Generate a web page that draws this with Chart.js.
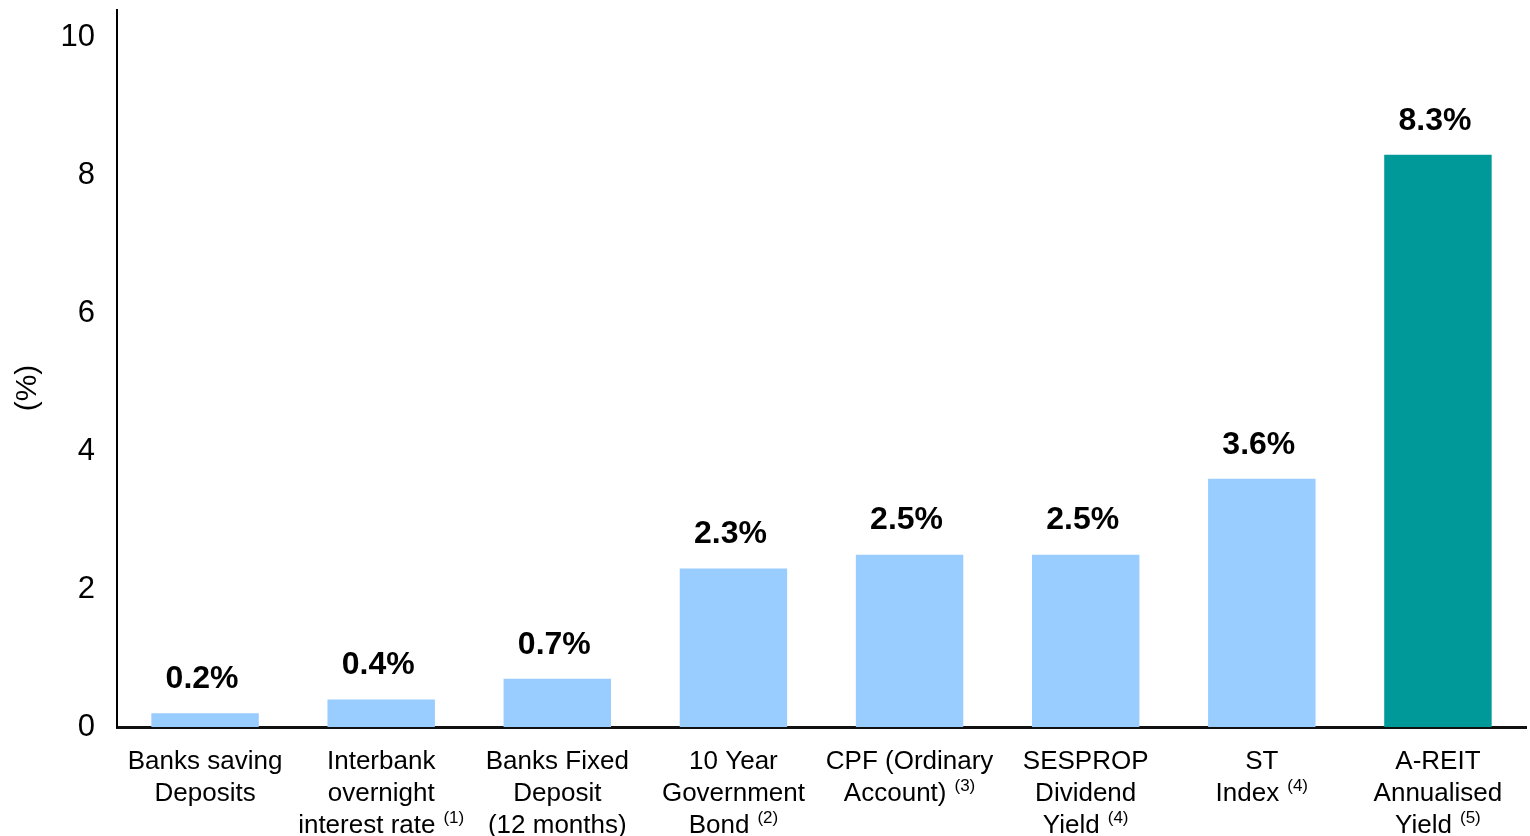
<!DOCTYPE html>
<html>
<head>
<meta charset="utf-8">
<script src="https://cdn.jsdelivr.net/npm/chart.js@4.4.1/dist/chart.umd.min.js"></script>
<style>
html,body{margin:0;padding:0;background:#fff;}
canvas{display:block;}
</style>
</head>
<body>
<canvas id="myChart" width="1530" height="836" style="width:1530px;height:836px"></canvas>
<script>
const categories = [
  ['Banks saving', 'Deposits'],
  ['Interbank', 'overnight', 'interest rate'],
  ['Banks Fixed', 'Deposit', '(12 months)'],
  ['10 Year', 'Government', 'Bond'],
  ['CPF (Ordinary', 'Account)'],
  ['SESPROP', 'Dividend', 'Yield'],
  ['ST', 'Index'],
  ['A-REIT', 'Annualised', 'Yield']
]
const notes = ['', '(1)', '', '(2)', '(3)', '(4)', '(4)', '(5)']
const yields = [0.2, 0.4, 0.7, 2.3, 2.5, 2.5, 3.6, 8.3]
const yTicks = [0, 2, 4, 6, 8, 10]

const blue = '#99ccff'
const teal = '#009999'
const font = '"Liberation Sans", Arial, sans-serif'

const barColors = yields.map((v, i) => i === yields.length - 1 ? teal : blue)

const labelsPlugin = {
  id: 'labelsPlugin',
  afterDatasetsDraw(chart) {
    const ctx = chart.ctx
    const meta = chart.getDatasetMeta(0)
    ctx.save()
    ctx.font = 'bold 32px ' + font
    ctx.fillStyle = '#000'
    ctx.textAlign = 'center'
    ctx.textBaseline = 'bottom'
    meta.data.forEach((bar, i) => {
      ctx.fillText(yields[i].toFixed(1) + '%', bar.x - 3, bar.y - 18)
    })
    ctx.restore()
  },
  afterDraw(chart) {
    const ctx = chart.ctx
    const xScale = chart.scales.x
    ctx.save()
    ctx.fillStyle = '#000'
    ctx.textBaseline = 'middle'
    categories.forEach((lines, i) => {
      const cx = xScale.getPixelForTick(i)
      lines.forEach((line, k) => {
        const y = 762 + k * 32
        ctx.font = '26px ' + font
        const w = ctx.measureText(line).width
        let noteW = 0
        if (k === lines.length - 1 && notes[i]) {
          ctx.font = '17px ' + font
          noteW = ctx.measureText(notes[i]).width + 8
        }
        const start = cx - (w + noteW) / 2
        ctx.font = '26px ' + font
        ctx.textAlign = 'left'
        ctx.fillText(line, start, y)
        if (noteW) {
          ctx.font = '17px ' + font
          ctx.fillText(notes[i], start + w + 8, y - 8)
        }
      })
    })
    // y axis title
    ctx.translate(28, 388)
    ctx.rotate(-Math.PI / 2)
    ctx.font = '30px ' + font
    ctx.textAlign = 'center'
    ctx.fillText('(%)', 0, 0)
    ctx.restore()
  }
}

const data = {
  labels: categories.map(c => c.join(' ')),
  datasets: [{
    data: yields,
    backgroundColor: barColors,
    borderWidth: 0,
    barPercentage: 0.61,
    categoryPercentage: 1
  }]
}

const config = {
  type: 'bar',
  data: data,
  options: {
    responsive: false,
    animation: false,
    layout: { padding: { top: 10, right: 4, left: 0, bottom: 0 } },
    plugins: { legend: { display: false }, tooltip: { enabled: false } },
    scales: {
      x: {
        grid: { display: false },
        border: { color: '#111', width: 3 },
        ticks: { display: false },
        afterFit: s => { s.height = 109; s.paddingLeft = 0; s.paddingRight = 0 }
      },
      y: {
        min: 0,
        max: 10.4,
        afterBuildTicks: s => { s.ticks = yTicks.map(v => ({ value: v })) },
        grid: { display: false },
        border: { color: '#000', width: 2 },
        ticks: { padding: 14, color: '#000', font: { family: font, size: 31 } },
        afterFit: s => { s.width = 117; s.paddingTop = 0; s.paddingBottom = 0 }
      }
    }
  },
  plugins: [labelsPlugin]
}

const myChart = new Chart(document.getElementById('myChart'), config)
</script>
</body>
</html>
